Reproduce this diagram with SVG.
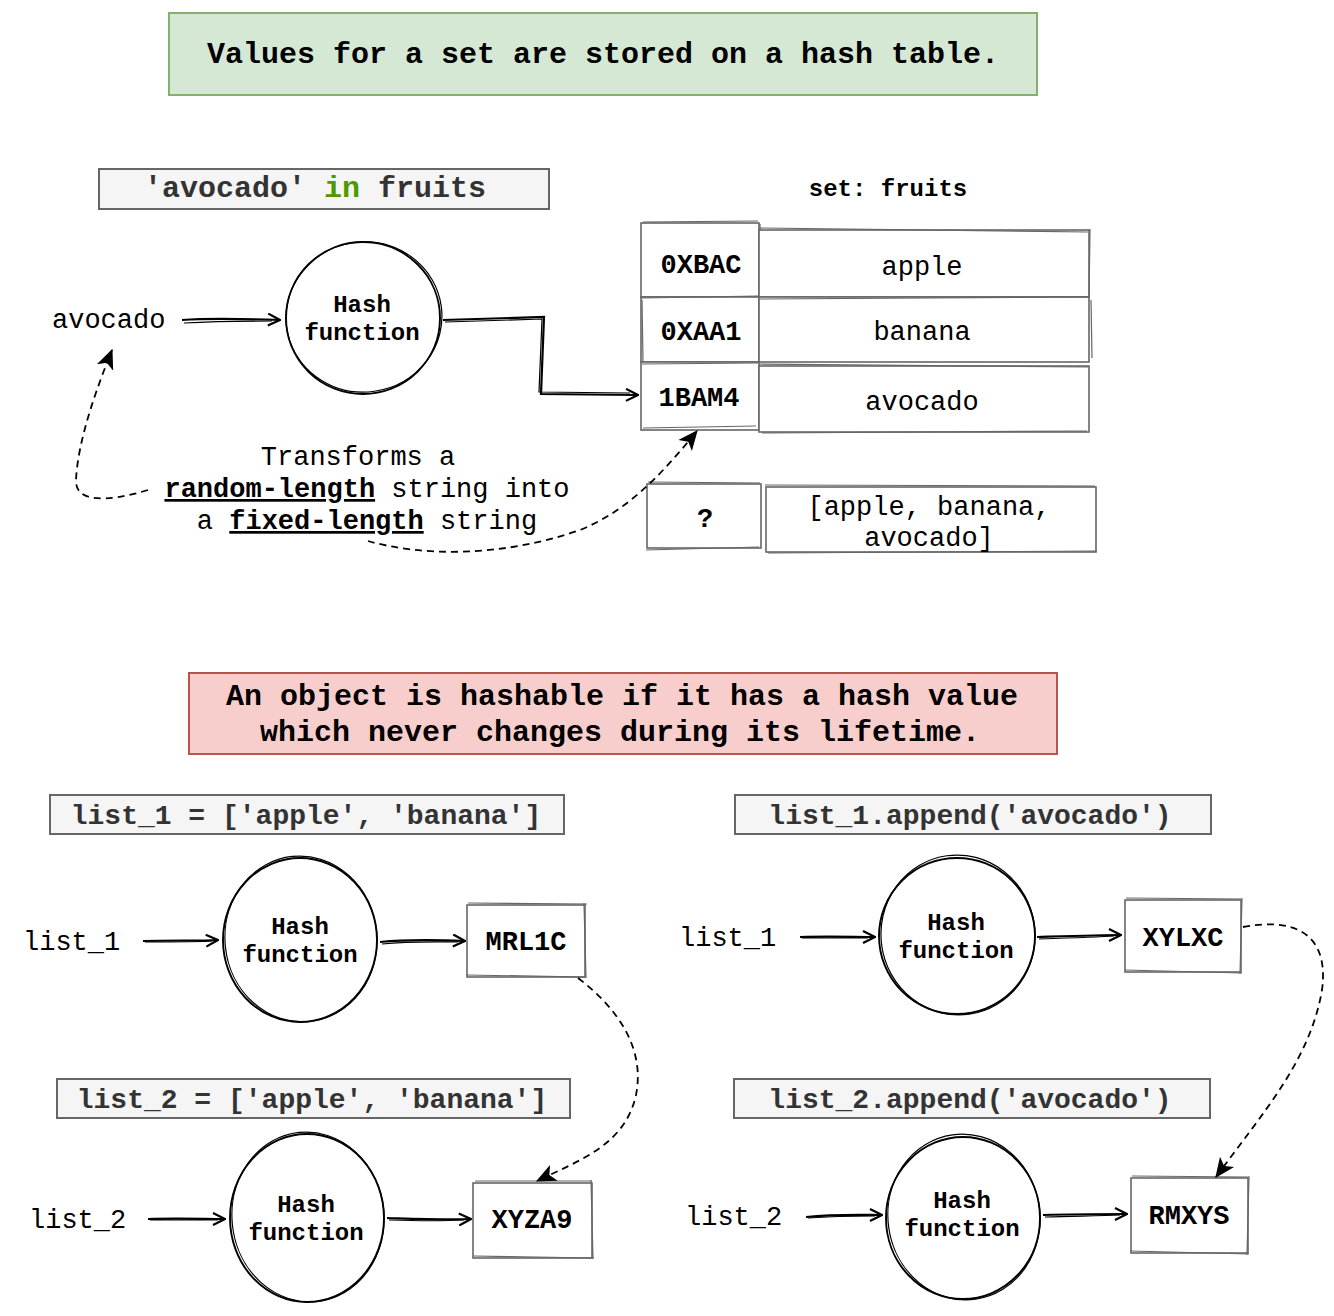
<svg xmlns="http://www.w3.org/2000/svg" width="1334" height="1316" viewBox="0 0 1334 1316">
<defs>
<style>
text{font-family:"Courier New","Liberation Mono",monospace;fill:#000}
.b{font-weight:bold}
.c{text-anchor:middle}
.code{fill:#f5f5f5;stroke:#666;stroke-width:2}
.code-t{fill:#333;font-weight:bold;font-size:30px;text-anchor:middle}
.code-s{fill:#333;font-weight:bold;font-size:28px;text-anchor:middle}
.cell{fill:#fff;stroke:#666;stroke-width:1.6}
.cell2{fill:none;stroke:#666;stroke-width:1.2}
.circ{fill:#fff;stroke:#000;stroke-width:1.9}
.circ2{fill:none;stroke:#000;stroke-width:1.2}
.con{fill:none;stroke:#000;stroke-width:2.2}
.con2{fill:none;stroke:#000;stroke-width:1.2}
.dash{fill:none;stroke:#000;stroke-width:1.8;stroke-dasharray:7 5}
.hf{font-size:24px;font-weight:bold;text-anchor:middle}
.lbl{font-size:27px}
.key{font-size:27px;font-weight:bold;text-anchor:middle}
.val{font-size:27px;text-anchor:middle}
</style>
<marker id="open" viewBox="0 0 14 14" refX="13" refY="7" markerWidth="14" markerHeight="14" markerUnits="userSpaceOnUse" orient="auto">
<path d="M1,1 L13,7 L1,13" fill="none" stroke="#000" stroke-width="2.2"/>
</marker>
<marker id="fill" viewBox="0 0 16 16" refX="15" refY="8" markerWidth="20" markerHeight="20" markerUnits="userSpaceOnUse" orient="auto">
<path d="M0,1 L16,8 L0,15 L4,8 Z" fill="#000"/>
</marker>
</defs>
<rect width="1334" height="1316" fill="#fff"/>

<g id="title-set">
<rect x="169" y="13" width="868" height="82" fill="#d5e8d4" stroke="#82b366" stroke-width="2"/>
<text x="603" y="63" class="b c" font-size="30">Values for a set are stored on a hash table.</text>
</g>

<g id="code-in">
<rect x="99" y="169" width="450" height="40" class="code"/>
<text x="315" y="197" class="code-t">'avocado' <tspan fill="#4d9900">in</tspan> fruits</text>
</g>

<g id="set-label">
<text x="888" y="196" class="b c" font-size="24">set: fruits</text>
</g>

<g id="label-avocado">
<text x="52" y="328" class="lbl">avocado</text>
</g>

<g id="hash-top">
<ellipse cx="363" cy="318" rx="77" ry="76" class="circ"/>
<ellipse cx="364" cy="317" rx="78" ry="75" class="circ2" transform="rotate(-8 364 317)"/>
<text x="362" y="312" class="hf">Hash</text>
<text x="362" y="340" class="hf">function</text>
</g>

<g id="table">
<g id="row1">
<rect x="641" y="223" width="118" height="74" class="cell"/>
<path d="M643,222 L758,221 M760,224 L760,296" class="cell2"/>
<rect x="759" y="230" width="330" height="67" class="cell"/>
<path d="M760,228 L1088,232 M1090,229 L1089,298" class="cell2"/>
<text x="701" y="273" class="key">0XBAC</text>
<text x="922" y="275" class="val">apple</text>
</g>
<g id="row2">
<rect x="641" y="297" width="118" height="65" class="cell"/>
<path d="M641,298 L758,296 M642,300 L643,362" class="cell2"/>
<rect x="759" y="297" width="330" height="65" class="cell"/>
<path d="M760,299 L1090,297 M1091,300 L1092,358" class="cell2"/>
<text x="701" y="340" class="key">0XAA1</text>
<text x="922" y="340" class="val">banana</text>
</g>
<g id="row3">
<rect x="641" y="362" width="118" height="68" class="cell"/>
<path d="M642,364 L758,363 M643,428 L756,426" class="cell2"/>
<rect x="759" y="366" width="330" height="66" class="cell"/>
<path d="M759,364 L1088,367 M762,433 L1087,431" class="cell2"/>
<text x="699" y="406" class="key">1BAM4</text>
<text x="922" y="410" class="val">avocado</text>
</g>
</g>

<g id="row-unknown">
<rect x="647" y="484" width="114" height="64" class="cell"/>
<path d="M648,482 L760,483 M646,550 L759,547" class="cell2"/>
<rect x="766" y="487" width="330" height="65" class="cell"/>
<path d="M765,485 L1095,486 M768,553 L1097,551" class="cell2"/>
<text x="705" y="527" class="key">?</text>
<text x="929" y="515" class="val">[apple, banana,</text>
<text x="929" y="546" class="val">avocado]</text>
</g>

<g id="desc">
<text x="358" y="465" class="lbl c">Transforms a</text>
<text x="367" y="497" class="lbl c"><tspan class="b" text-decoration="underline">random-length</tspan> string into</text>
<text x="367" y="529" class="lbl c">a <tspan class="b" text-decoration="underline">fixed-length</tspan> string</text>
</g>

<g id="title-hashable">
<rect x="189" y="673" width="868" height="81" fill="#f8cecc" stroke="#b85450" stroke-width="2"/>
<text x="622" y="705" class="b c" font-size="30">An object is hashable if it has a hash value</text>
<text x="620" y="741" class="b c" font-size="30">which never changes during its lifetime.</text>
</g>

<g id="code-list1">
<rect x="50" y="795" width="514" height="39" class="code"/>
<text x="306" y="824" class="code-s">list_1 = ['apple', 'banana']</text>
</g>
<g id="code-list2">
<rect x="57" y="1079" width="513" height="39" class="code"/>
<text x="312" y="1108" class="code-s">list_2 = ['apple', 'banana']</text>
</g>
<g id="code-append1">
<rect x="735" y="795" width="476" height="39" class="code"/>
<text x="970" y="824" class="code-s">list_1.append('avocado')</text>
</g>
<g id="code-append2">
<rect x="734" y="1079" width="476" height="39" class="code"/>
<text x="970" y="1108" class="code-s">list_2.append('avocado')</text>
</g>

<g id="label-l1a"><text x="23" y="950" class="lbl">list_1</text></g>
<g id="label-l2a"><text x="29" y="1228" class="lbl">list_2</text></g>
<g id="label-l1b"><text x="679" y="946" class="lbl">list_1</text></g>
<g id="label-l2b"><text x="685" y="1225" class="lbl">list_2</text></g>

<g id="hash-1">
<ellipse cx="300" cy="940" rx="77" ry="82" class="circ"/>
<ellipse cx="301" cy="939" rx="76" ry="83" class="circ2" transform="rotate(-6 301 939)"/>
<text x="300" y="934" class="hf">Hash</text>
<text x="300" y="962" class="hf">function</text>
</g>
<g id="hash-2">
<ellipse cx="307" cy="1218" rx="77" ry="84" class="circ"/>
<ellipse cx="308" cy="1217" rx="76" ry="85" class="circ2" transform="rotate(-6 308 1217)"/>
<text x="306" y="1212" class="hf">Hash</text>
<text x="306" y="1240" class="hf">function</text>
</g>
<g id="hash-3">
<ellipse cx="957" cy="936" rx="78" ry="78" class="circ"/>
<ellipse cx="958" cy="935" rx="77" ry="80" class="circ2" transform="rotate(-8 958 935)"/>
<text x="956" y="930" class="hf">Hash</text>
<text x="956" y="958" class="hf">function</text>
</g>
<g id="hash-4">
<ellipse cx="963" cy="1218" rx="77" ry="81" class="circ"/>
<ellipse cx="964" cy="1217" rx="76" ry="83" class="circ2" transform="rotate(-8 964 1217)"/>
<text x="962" y="1208" class="hf">Hash</text>
<text x="962" y="1236" class="hf">function</text>
</g>

<g id="out-mrl1c">
<rect x="467" y="905" width="118" height="72" class="cell"/>
<path d="M468,903 L587,904 M584,903 L586,978 M466,975 L585,977" class="cell2"/>
<text x="526" y="950" class="key">MRL1C</text>
</g>
<g id="out-xyza9">
<rect x="473" y="1183" width="119" height="75" class="cell"/>
<path d="M475,1181 L592,1181 M591,1180 L593,1259 M473,1256 L594,1258" class="cell2"/>
<text x="532" y="1228" class="key">XYZA9</text>
</g>
<g id="out-xylxc">
<rect x="1125" y="900" width="116" height="72" class="cell"/>
<path d="M1126,898 L1241,899 M1242,898 L1240,974 M1125,970 L1242,973" class="cell2"/>
<text x="1183" y="946" class="key">XYLXC</text>
</g>
<g id="out-rmxys">
<rect x="1131" y="1178" width="117" height="75" class="cell"/>
<path d="M1132,1176 L1248,1177 M1249,1176 L1247,1255 M1130,1251 L1249,1254" class="cell2"/>
<text x="1189" y="1224" class="key">RMXYS</text>
</g>

<g id="connectors">
<path d="M182,320 C210,318 250,319 280,320" class="con" marker-end="url(#open)"/>
<path d="M184,323 C220,321 250,321 272,321" class="con2"/>
<path d="M443,320 L544,317 L541,394 L638,395" class="con" marker-end="url(#open)"/>
<path d="M445,322 L542,319 L539,392 L630,393" class="con2"/>
<path d="M148,490 C105,503 75,502 76,480 C78,440 96,390 112,350" class="dash" marker-end="url(#fill)"/>
<path d="M368,541 C420,556 500,558 580,530 C630,510 665,470 697,431" class="dash" marker-end="url(#fill)"/>

<path d="M143,941 C170,940 200,941 218,940" class="con" marker-end="url(#open)"/>
<path d="M145,942 C175,942 200,942 212,941" class="con2"/>
<path d="M380,942 C410,939 440,940 465,941" class="con" marker-end="url(#open)"/>
<path d="M382,944 C410,941 440,942 458,942" class="con2"/>
<path d="M148,1219 C175,1218 205,1219 225,1219" class="con" marker-end="url(#open)"/>
<path d="M150,1220 C175,1220 205,1220 218,1220" class="con2"/>
<path d="M387,1218 C420,1219 445,1220 471,1219" class="con" marker-end="url(#open)"/>
<path d="M389,1220 C420,1221 445,1221 464,1220" class="con2"/>
<path d="M800,937 C830,936 855,937 875,937" class="con" marker-end="url(#open)"/>
<path d="M802,938 C830,938 855,938 868,938" class="con2"/>
<path d="M1037,937 C1070,936 1100,935 1121,935" class="con" marker-end="url(#open)"/>
<path d="M1039,939 C1070,938 1100,937 1114,936" class="con2"/>
<path d="M806,1217 C835,1214 860,1215 882,1215" class="con" marker-end="url(#open)"/>
<path d="M808,1218 C835,1216 860,1216 875,1216" class="con2"/>
<path d="M1043,1215 C1075,1214 1100,1214 1127,1214" class="con" marker-end="url(#open)"/>
<path d="M1045,1217 C1075,1216 1100,1216 1120,1215" class="con2"/>

<path d="M578,978 C620,1010 645,1050 636,1095 C625,1145 580,1160 537,1181" class="dash" marker-end="url(#fill)"/>
<path d="M1243,927 C1290,918 1330,930 1322,990 C1310,1060 1265,1110 1216,1177" class="dash" marker-end="url(#fill)"/>
</g>
</svg>
